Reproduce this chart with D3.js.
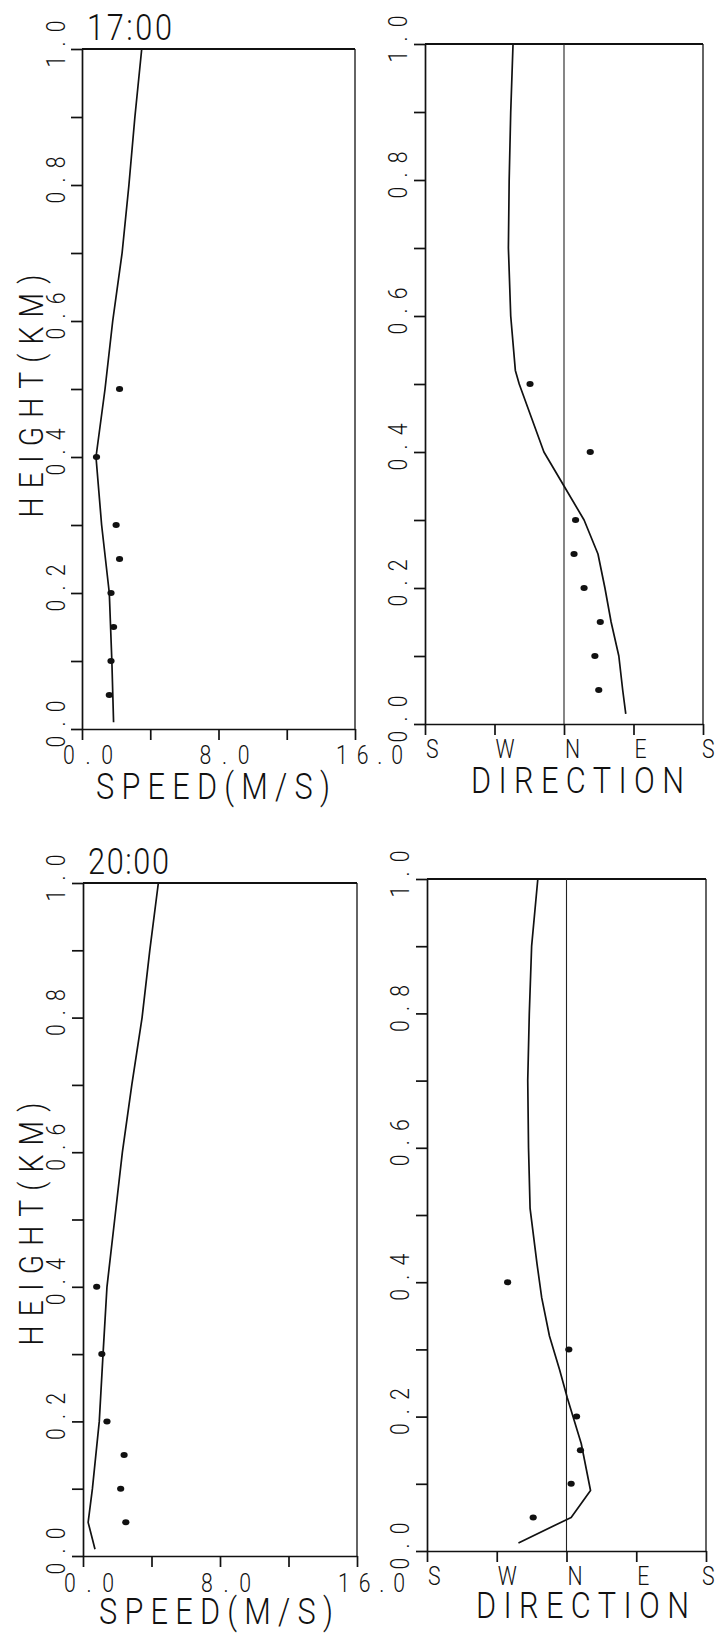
<!DOCTYPE html>
<html>
<head>
<meta charset="utf-8">
<script src="https://cdn.jsdelivr.net/npm/d3@7"></script>
<style>
  html, body { margin: 0; padding: 0; background: #fff; }
  svg { display: block; }
  text { font-family: Roboto, "Liberation Sans", sans-serif; font-weight: 300; fill: #111; }
</style>
</head>
<body>
<svg id="chart" width="716" height="1634"></svg>
<script>
// ---- Observed points (height km) ----
const obsHeights17 = [0.5, 0.4, 0.3, 0.25, 0.2, 0.15, 0.1, 0.05];
const obsSpeed17   = [2.2, 0.85, 2.0, 2.2, 1.7, 1.85, 1.7, 1.6];
const obsDir17     = [-44, 34, 15, 13, 26, 47, 40, 45];

const obsHeights20 = [0.4, 0.3, 0.2, 0.15, 0.1, 0.05];
const obsSpeed20   = [0.8, 1.1, 1.4, 2.4, 2.2, 2.5];
const obsDir20     = [-76, 3, 13, 18, 6, -43];

// ---- Model profiles ----
const modelSpeedHeights17 = [0.01, 0.1, 0.2, 0.3, 0.4, 0.5, 0.6, 0.7, 0.8, 0.9, 1.0];
const modelSpeed17        = [1.85, 1.75, 1.6, 1.15, 0.82, 1.35, 1.8, 2.35, 2.75, 3.1, 3.5];

const modelDirHeights17 = [0.015, 0.05, 0.1, 0.15, 0.2, 0.25, 0.3, 0.35, 0.4, 0.45, 0.5, 0.52, 0.6, 0.7, 0.8, 0.9, 1.0];
const modelDir17        = [80, 76, 71, 61, 53, 44, 26, 0, -26, -42, -58, -63, -69, -72, -71, -69, -66];

const modelSpeedHeights20 = [0.01, 0.05, 0.1, 0.2, 0.3, 0.4, 0.5, 0.6, 0.7, 0.8, 0.9, 1.0];
const modelSpeed20        = [0.7, 0.3, 0.55, 0.95, 1.17, 1.4, 1.85, 2.3, 2.85, 3.45, 3.9, 4.4];

const modelDirHeights20 = [0.012, 0.05, 0.09, 0.16, 0.228, 0.27, 0.32, 0.377, 0.427, 0.51, 0.6, 0.7, 0.8, 0.9, 1.0];
const modelDir20        = [-62, 6, 31, 19, 1, -9, -22, -32, -38, -47, -49, -50, -48, -45, -37];

// ---- Axis ticks and labels ----
const heightTicks  = [0, 0.1, 0.2, 0.3, 0.4, 0.5, 0.6, 0.7, 0.8, 0.9, 1.0];
const heightLabels = [0, 0.2, 0.4, 0.6, 0.8, 1.0];
const speedTicks   = [0, 4, 8, 12, 16];
const speedLabels  = [0, 8, 16];
const dirTicks     = [-180, -90, 0, 90, 180];
const dirNames     = ["S", "W", "N", "E", "S"];
const times        = ["17:00", "20:00"];

const CAP = 0.711;           // cap-height / font-size for Roboto
const SX = 0.84;             // narrow the glyphs a little, plotter-lettering style
const fs = cap => cap / CAP;

const svg = d3.select("#chart");
svg.append("rect").attr("width", 716).attr("height", 1634).attr("fill", "#fff");

// text of a given cap height spread over a given length (letters spaced, not stretched)
function text(g, str, x, y, cap, len, anchor, rot) {
  const t = g.append("text")
    .attr("transform", `translate(${x},${y})` + (rot ? ` rotate(${rot})` : "") + ` scale(${SX},1)`)
    .attr("font-size", fs(cap))
    .attr("text-anchor", anchor || "start")
    .text(str);
  if (len && str.length > 1) t.attr("textLength", len / SX).attr("lengthAdjust", "spacing");
  return t;
}

function panel(cfg) {
  const { l, r, t, b } = cfg.frame;
  const g = svg.append("g");
  const y = d3.scaleLinear().domain([0, 1]).range([b, t]);
  const x = d3.scaleLinear().domain(cfg.domain).range([l, r]);

  // frame: left and bottom axes with outward ticks, plain top/right edges
  const ax = g.append("g").attr("transform", `translate(${l},0)`)
    .call(d3.axisLeft(y).tickValues(heightTicks).tickSize(11).tickSizeOuter(0).tickFormat(""));
  const bx = g.append("g").attr("transform", `translate(0,${b})`)
    .call(d3.axisBottom(x).tickValues(cfg.ticks).tickSize(11).tickSizeOuter(0).tickFormat(""));
  [ax, bx].forEach(a => a.selectAll("path, line").attr("stroke", "#111").attr("stroke-width", 1.7));
  g.append("line").attr("x1", l).attr("x2", r).attr("y1", t).attr("y2", t)
    .attr("stroke", "#111").attr("stroke-width", 1.9);
  g.append("line").attr("x1", r).attr("x2", r).attr("y1", t).attr("y2", b)
    .attr("stroke", "#111").attr("stroke-width", 1.3);

  // height tick labels, rotated
  heightLabels.forEach(v => {
    text(g, v.toFixed(1), l - cfg.yLabelGap, y(v) - 5, 18, 47, "middle", -90);
  });

  if (cfg.kind === "dir") {
    // north reference line
    g.append("line").attr("x1", x(0)).attr("x2", x(0)).attr("y1", t).attr("y2", b)
      .attr("stroke", "#222").attr("stroke-width", 1.1);
    dirTicks.forEach((v, i) => text(g, dirNames[i], Math.min(x(v) + 1, 702), b + 34, 18, 12, "start"));
    text(g, "DIRECTION", cfg.titleX, b + cfg.titleDy, 26, 213, "start");
  } else {
    speedLabels.forEach(v => {
      const s = v.toFixed(1);
      text(g, s, x(v) - 19, b + cfg.labelDy, 18, 17 * s.length - 1, "start");
    });
    text(g, "SPEED(M/S)", cfg.titleX, b + cfg.titleDy, 26, 234, "start");
    text(g, "HEIGHT(KM)", 43, cfg.hMid, 24, 243, "middle", -90);
    text(g, cfg.time, l + 5, t - 9, 26, cfg.timeLen, "start");
  }

  // model profile
  const line = d3.line().x(d => x(d[1])).y(d => y(d[0]));
  const prof = cfg.modelH.map((h, i) => [h, cfg.modelV[i]]);
  g.append("path").datum(prof).attr("d", line)
    .attr("fill", "none").attr("stroke", "#111").attr("stroke-width", 1.7)
    .attr("stroke-linejoin", "round");

  // observations
  g.selectAll("ellipse.obs").data(cfg.obsH.map((h, i) => [h, cfg.obsV[i]]))
    .enter().append("ellipse").attr("class", "obs")
    .attr("cx", d => x(d[1])).attr("cy", d => y(d[0]))
    .attr("rx", 3.6).attr("ry", 3.0).attr("fill", "#111");
}

panel({ kind: "speed", frame: { l: 82, r: 355, t: 49, b: 729 }, domain: [0, 16], ticks: speedTicks,
  yLabelGap: 17, labelDy: 35, titleX: 96, titleDy: 70, hMid: 396, time: times[0], timeLen: 85,
  modelH: modelSpeedHeights17, modelV: modelSpeed17, obsH: obsHeights17, obsV: obsSpeed17 });

panel({ kind: "dir", frame: { l: 425, r: 703, t: 44, b: 724 }, domain: [-180, 180], ticks: dirTicks,
  yLabelGap: 18, titleX: 471, titleDy: 69,
  modelH: modelDirHeights17, modelV: modelDir17, obsH: obsHeights17, obsV: obsDir17 });

panel({ kind: "speed", frame: { l: 83, r: 357, t: 883, b: 1556 }, domain: [0, 16], ticks: speedTicks,
  yLabelGap: 18, labelDy: 36, titleX: 99, titleDy: 68, hMid: 1224, time: times[1], timeLen: 81,
  modelH: modelSpeedHeights20, modelV: modelSpeed20, obsH: obsHeights20, obsV: obsSpeed20 });

panel({ kind: "dir", frame: { l: 427, r: 706, t: 879, b: 1551 }, domain: [-180, 180], ticks: dirTicks,
  yLabelGap: 18, titleX: 476, titleDy: 67,
  modelH: modelDirHeights20, modelV: modelDir20, obsH: obsHeights20, obsV: obsDir20 });
</script>
</body>
</html>
